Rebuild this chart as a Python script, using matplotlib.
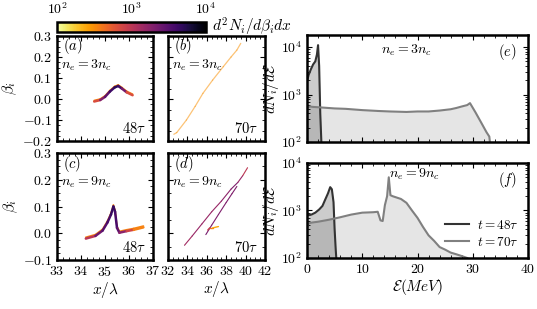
import numpy as np
import matplotlib.pyplot as plt
from matplotlib.colors import LogNorm
from matplotlib.collections import LineCollection
from matplotlib.cm import ScalarMappable
from matplotlib.ticker import AutoMinorLocator

plt.rcParams['mathtext.fontset'] = 'cm'
plt.rcParams['font.family'] = 'serif'
plt.rcParams['font.serif'] = ['cmr10', 'DejaVu Serif']
plt.rcParams['axes.formatter.use_mathtext'] = True
plt.rcParams['font.size'] = 10

# phase space curves (x/lambda, beta_i, density)
a_x = [34.55, 34.8, 35.0, 35.2, 35.4, 35.55, 35.7, 35.9, 36.15]
a_b = [-0.012, -0.005, 0.01, 0.035, 0.055, 0.062, 0.05, 0.032, 0.018]
a_d = [300, 1500, 2500, 3500, 5000, 5000, 3500, 1500, 300]

b_x = [32.6, 32.9, 33.9, 34.8, 35.6, 36.6, 37.7, 38.5, 39.1, 39.5]
b_b = [-0.168, -0.16, -0.10, -0.035, 0.027, 0.09, 0.154, 0.2, 0.233, 0.265]
b_d = [300, 300, 300, 300, 300, 300, 300, 300, 300, 300]

c_x = [34.2, 34.6, 34.9, 35.1, 35.25, 35.35, 35.42, 35.5, 35.6, 35.9, 36.2, 36.6]
c_b = [-0.02, -0.01, 0.01, 0.04, 0.07, 0.1, 0.08, 0.02, 0.002, 0.008, 0.013, 0.022]
c_d = [500, 2000, 3000, 3500, 4000, 5000, 4000, 3500, 2500, 1200, 500, 250]

d1_x = [33.7, 34.5, 35.5, 36.5, 37.5, 38.5, 39.2, 39.7, 40.2]
d1_b = [-0.045, -0.01, 0.035, 0.08, 0.12, 0.165, 0.19, 0.215, 0.245]
d1_d = [1200, 1500, 1500, 1500, 1500, 2000, 2000, 1200, 800]
d2_x = [35.9, 36.5, 37.2, 38.0, 38.6, 39.1]
d2_b = [-0.005, 0.03, 0.07, 0.115, 0.148, 0.175]
d2_d = [2500, 2000, 2000, 2000, 2000, 2000]
d3_x = [36.1, 36.3, 36.6, 37.2]
d3_b = [0.012, 0.02, 0.02, 0.025]
d3_d = [1500, 500, 300, 200]

# energy spectra
e48_x = [0, 0.3, 0.7, 1.1, 1.5, 1.8, 2.0, 2.2, 2.4, 2.6]
e48_y = [1900, 2600, 3400, 4300, 5000, 7000, 11000, 4000, 400, 100]
e70_x = [0, 0.5, 1, 2, 3, 5, 7, 10, 13, 15, 18, 20, 22, 24, 26, 27, 28, 29, 29.5, 30.5, 31.5, 32.5, 33, 33.1]
e70_y = [520, 560, 550, 540, 530, 510, 500, 470, 450, 440, 430, 440, 440, 460, 490, 520, 560, 600, 660, 420, 260, 160, 130, 100]

f48_x = [0, 0.3, 0.8, 1.5, 2.2, 2.8, 3.3, 3.8, 4.2, 4.5, 4.8, 5.0, 5.2, 5.3]
f48_y = [850, 800, 820, 900, 1050, 1250, 1700, 2300, 3100, 2800, 1500, 400, 150, 100]
f70_x = [0, 0.3, 1, 2, 4, 6, 8, 10, 12, 12.8, 13.3, 13.7, 14.1, 14.5, 14.8, 15.1, 15.5, 17, 18, 19, 20,
         21, 22, 23, 24, 25, 26, 27, 28, 29]
f70_y = [430, 540, 560, 580, 640, 720, 820, 900, 920, 940, 620, 600, 1300, 2000, 5000, 2100, 2000, 1750,
         1450, 1000, 700, 450, 300, 230, 170, 150, 130, 120, 110, 100]

cmap = plt.get_cmap('inferno_r')
norm = LogNorm(1e2, 1e4)

W, H = 537, 309
fig = plt.figure(figsize=(W / 100, H / 100), dpi=100)


def box(l, t, r, b):
    return [l / W, 1 - b / H, (r - l) / W, (b - t) / H]


def style(ax):
    ax.tick_params(which='both', direction='in', top=True, right=True, labelsize=10)
    ax.tick_params(which='major', length=3.5, width=0.8)
    ax.tick_params(which='minor', length=2, width=0.6)
    for s in ax.spines.values():
        s.set_linewidth(1.8)


def curve(ax, x, y, d, lw, alpha=1.0):
    pts = np.column_stack([x, y]).reshape(-1, 1, 2)
    segs = np.concatenate([pts[:-1], pts[1:]], axis=1)
    dd = np.sqrt(np.array(d[:-1]) * np.array(d[1:]))
    lc = LineCollection(segs, cmap=cmap, norm=norm, linewidths=lw, capstyle='round', alpha=alpha)
    lc.set_array(dd)
    ax.add_collection(lc)


ax_a = fig.add_axes(box(57, 36, 153, 141))
ax_b = fig.add_axes(box(168, 36, 265, 141))
ax_c = fig.add_axes(box(57, 153, 153, 260))
ax_d = fig.add_axes(box(168, 153, 265, 260))
ax_e = fig.add_axes(box(307, 35, 528, 142))
ax_f = fig.add_axes(box(307, 163, 528, 258))
cax = fig.add_axes(box(57, 22, 206, 32))

# panel a
curve(ax_a, a_x, np.array(a_b) + 0.005, [350] * len(a_x), 1.2)
curve(ax_a, a_x, a_b, a_d, 1.8)
# panel b
curve(ax_b, b_x, b_b, b_d, 0.9, alpha=0.55)
# panel c
curve(ax_c, c_x, np.array(c_b) + 0.005, [350] * len(c_x), 1.2)
curve(ax_c, c_x, c_b, c_d, 1.8)
# panel d
curve(ax_d, d1_x, d1_b, d1_d, 0.8)
curve(ax_d, d2_x, d2_b, d2_d, 0.8)
curve(ax_d, d3_x, d3_b, d3_d, 1.0)

for ax in (ax_a, ax_c):
    ax.set_xlim(33, 37)
    ax.set_xticks([33, 34, 35, 36, 37])
for ax in (ax_b, ax_d):
    ax.set_xlim(32, 42)
    ax.set_xticks([32, 34, 36, 38, 40, 42])
for ax in (ax_a, ax_b):
    ax.set_ylim(-0.2, 0.3)
    ax.set_xticklabels([])
for ax in (ax_c, ax_d):
    ax.set_ylim(-0.1, 0.3)
ax_a.set_yticks([-0.2, -0.1, 0.0, 0.1, 0.2, 0.3])
ax_c.set_yticks([-0.1, 0.0, 0.1, 0.2, 0.3])
ax_b.set_yticklabels([])
ax_d.set_yticklabels([])
ax_a.set_yticklabels(['$-0.2$', '$-0.1$', '$0.0$', '$0.1$', '$0.2$', '$0.3$'])
ax_c.set_yticklabels(['$-0.1$', '$0.0$', '$0.1$', '$0.2$', '$0.3$'])
ax_c.set_xticklabels(['$33$', '$34$', '$35$', '$36$', '$37$'])
ax_d.set_xticklabels(['$32$', '$34$', '$36$', '$38$', '$40$', '$42$'])

for ax, lab, ne, t in [(ax_a, '(a)', '3', '48'), (ax_b, '(b)', '3', '70'),
                       (ax_c, '(c)', '9', '48'), (ax_d, '(d)', '9', '70')]:
    ax.xaxis.set_minor_locator(AutoMinorLocator(4))
    ax.yaxis.set_minor_locator(AutoMinorLocator(4))
    style(ax)
    ax.text(0.06, 0.9, '$' + lab + '$', transform=ax.transAxes, ha='left', va='center', fontsize=10.5)
    ax.text(0.04, 0.725, '$n_e=' + ne + 'n_c$', transform=ax.transAxes, ha='left', va='center', fontsize=10)
    ax.text(0.93, 0.05, '$' + t + r'\tau$', transform=ax.transAxes, ha='right', va='bottom', fontsize=10.5)

ax_a.set_ylabel(r'$\beta_i$', fontsize=11, labelpad=2)
ax_c.set_ylabel(r'$\beta_i$', fontsize=11, labelpad=2)
ax_c.set_xlabel(r'$x/\lambda$', fontsize=11, labelpad=1)
ax_d.set_xlabel(r'$x/\lambda$', fontsize=11, labelpad=1)

# spectra
for ax, x48, y48, x70, y70, ne, lab, top in [(ax_e, e48_x, e48_y, e70_x, e70_y, '3', '(e)', 1.8e4),
                                             (ax_f, f48_x, f48_y, f70_x, f70_y, '9', '(f)', 1e4)]:
    ax.fill_between(x70, y70, 1e2, color='gray', alpha=0.2, lw=0)
    ax.fill_between(x48, y48, 1e2, color='k', alpha=0.2, lw=0)
    ax.plot(x48, y48, color='#333333', lw=1.5, label=r'$t=48\tau$')
    ax.plot(x70, y70, color='#808080', lw=1.5, label=r'$t=70\tau$')
    ax.set_yscale('log')
    ax.set_ylim(1e2, top)
    ax.set_xlim(0, 40)
    ax.set_xticks([0, 10, 20, 30, 40])
    ax.xaxis.set_minor_locator(AutoMinorLocator(5))
    style(ax)
    ax.set_ylabel(r'$dN_i/d\mathcal{E}$', fontsize=11, labelpad=0)
    ax.text(0.95, 0.93, '$' + lab + '$', transform=ax.transAxes, ha='right', va='top', fontsize=10.5)

ax_e.text(0.45, 0.93, '$n_e=3n_c$', transform=ax_e.transAxes, ha='center', va='top', fontsize=10)
ax_f.text(0.485, 0.96, '$n_e=9n_c$', transform=ax_f.transAxes, ha='center', va='top', fontsize=10)
ax_e.set_xticklabels([])
ax_f.set_xticklabels(['$0$', '$10$', '$20$', '$30$', '$40$'])
ax_f.set_xlabel(r'$\mathcal{E}(MeV)$', fontsize=11, labelpad=1)
ax_f.legend(loc='lower right', frameon=False, fontsize=9.5, handlelength=1.8, handletextpad=0.6,
            borderaxespad=0.3, labelspacing=0.3)

# colorbar
sm = ScalarMappable(norm=norm, cmap=cmap)
cb = fig.colorbar(sm, cax=cax, orientation='horizontal')
cax.xaxis.set_ticks_position('top')
cax.xaxis.set_label_position('top')
cax.tick_params(which='both', direction='in', labelsize=10, length=0)
cax.minorticks_off()
cb.outline.set_linewidth(1.8)
fig.text(212 / W, 1 - 27 / H, r'$d^2N_i/d\beta_i dx$', ha='left', va='center', fontsize=11)

fig.savefig('out.png', dpi=100)
